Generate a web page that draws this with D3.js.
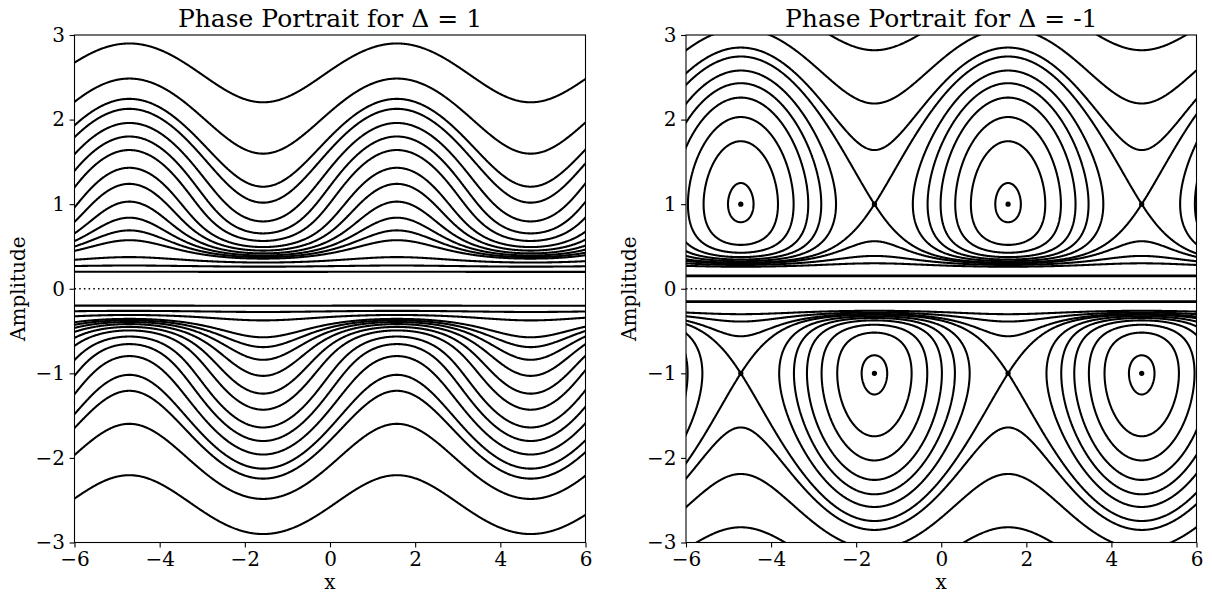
<!DOCTYPE html>
<html><head><meta charset="utf-8">
<script src="https://cdn.jsdelivr.net/npm/d3@7"></script>
<style>
html,body{margin:0;padding:0;background:#fff;}
svg{display:block;}
text{font-family:"DejaVu Serif",serif;fill:#000;}
</style></head><body>
<svg id="chart" width="1212" height="593"></svg>
<script>
// ---------------- data ----------------
const deltas = [1, -1];
const titles = ["Phase Portrait for \u0394 = 1", "Phase Portrait for \u0394 = -1"];
const xTicks = [-6, -4, -2, 0, 2, 4, 6];
const yTicks = [-3, -2, -1, 0, 1, 2, 3];
// Δ = 1 : amplitude of each wavy curve at its crest (x = π/2), upper half (lower half mirrors it)
const leftCrestY = [2.90, 2.485, 2.245, 2.127, 1.96, 1.80, 1.64, 1.43, 1.24, 1.03, 0.84, 0.69, 0.574, 0.374];
// Δ = 1 : flat lines near zero, read at x = 0
const leftFlatY = [0.267, 0.20];
// Δ = -1 : closed orbits, top of each orbit at x = π/2
const rightLoopTopY = [1.25, 1.744, 2.03, 2.26, 2.43, 2.58];
// Δ = -1 : separatrix through the saddle (x = -π/2, y = 1)
const rightSaddleY = [1.0];
// Δ = -1 : open curves above the saddle, read at x = -π/2 (each level also gives the matching curve below the saddle)
const rightAboveSaddleY = [1.64, 2.19, 2.82];
// Δ = -1 : flat lines near zero, read at x = -π/2
const rightFlatY = [0.156, 0.147];
// Δ = -1 : fixed points
const fixedPointX = [-4.712, -1.571, 1.571, 4.712];
const fixedPointY = [1, -1];

// conserved quantity H(x, y) = F(|y|) - c·sign(y)·sin x   (one parameter set per Δ)
const model = {
  "1":  {p: 2.2, k: -0.75, e: -2.5e-4, c: 2.39},
  "-1": {p: 3.0, k: 1.5,  e: 4e-4,    c: 9.2}
};
function F(a, m) { return Math.pow(a, m.p) + m.k / (a * a) + m.e / Math.pow(a, 8); }
function Hval(x, y, m) {
  const a = Math.abs(y);
  if (a < 1e-4) return m.k < 0 ? -1e12 : 1e12;
  const v = F(a, m) - m.c * Math.sign(y) * Math.sin(x);
  return Math.max(-1e12, Math.min(1e12, v));
}

// ---------------- layout ----------------
const svg = d3.select("#chart");
const panels = [
  {x0: 74.5, x1: 585.5},
  {x0: 686, x1: 1196.5}
];
const yTop = 35, yBot = 542.5;
const LW = 2.08;

panels.forEach((P, pi) => {
  const delta = deltas[pi];
  const m = model[String(delta)];
  const sx = d3.scaleLinear().domain([-6, 6]).range([P.x0, P.x1]);
  const sy = d3.scaleLinear().domain([-3, 3]).range([yBot, yTop]);
  const g = svg.append("g");
  const clipId = "clip" + pi;
  svg.append("clipPath").attr("id", clipId).append("rect")
    .attr("x", P.x0).attr("y", yTop).attr("width", P.x1 - P.x0).attr("height", yBot - yTop);

  // levels
  let levels = [];
  if (delta === 1) {
    leftCrestY.forEach(y => levels.push(Hval(Math.PI / 2, y, m)));
    leftFlatY.forEach(y => levels.push(Hval(0, y, m)));
  } else {
    rightLoopTopY.forEach(y => levels.push(Hval(Math.PI / 2, y, m)));
    rightSaddleY.forEach(y => levels.push(Hval(-Math.PI / 2, y, m) + 1e-9));
    rightAboveSaddleY.forEach(y => levels.push(Hval(-Math.PI / 2, y, m)));
    rightFlatY.forEach(y => levels.push(Hval(-Math.PI / 2, y, m)));
  }

  // grid
  const gx0 = -6.3, gx1 = 6.3, gy0 = 3.2, gy1 = -3.2;
  const nx = 840, ny = 641;
  const gdx = (gx1 - gx0) / (nx - 1), gdy = (gy0 - gy1) / (ny - 1);
  const values = new Float64Array(nx * ny);
  for (let j = 0; j < ny; j++) {
    const y = gy0 - j * gdy;
    for (let i = 0; i < nx; i++) {
      values[j * nx + i] = Hval(gx0 + i * gdx, y, m);
    }
  }
  const cont = d3.contours().size([nx, ny]).thresholds(levels)(values);
  const lines = g.append("g").attr("clip-path", `url(#${clipId})`);
  cont.forEach(c => {
    let d = "";
    c.coordinates.forEach(poly => poly.forEach(ring => {
      ring.forEach((pt, k) => {
        const X = sx(gx0 + (pt[0] - 0.5) * gdx), Y = sy(gy0 - (pt[1] - 0.5) * gdy);
        d += (k ? "L" : "M") + X.toFixed(2) + "," + Y.toFixed(2);
      });
    }));
    lines.append("path").attr("d", d).attr("fill", "none").attr("stroke", "#000")
      .attr("stroke-width", LW).attr("stroke-linejoin", "round");
  });

  // dotted zero line
  lines.append("line").attr("x1", sx(-6)).attr("x2", sx(6)).attr("y1", sy(0)).attr("y2", sy(0))
    .attr("stroke", "#000").attr("stroke-width", 1.5).attr("stroke-dasharray", "1.5 3.2");

  // fixed points
  if (delta === -1) {
    fixedPointX.forEach(fx => fixedPointY.forEach(fy => {
      lines.append("circle").attr("cx", sx(fx)).attr("cy", sy(fy)).attr("r", 2.6).attr("fill", "#000");
    }));
  }

  // frame
  g.append("rect").attr("x", P.x0).attr("y", yTop).attr("width", P.x1 - P.x0).attr("height", yBot - yTop)
    .attr("fill", "none").attr("stroke", "#000").attr("stroke-width", 1.1);

  // axes
  const fmt = d3.format("d");
  const ax = g.append("g").attr("transform", `translate(0,${yBot})`)
    .call(d3.axisBottom(sx).tickValues(xTicks).tickFormat(fmt).tickSize(4.9).tickSizeOuter(0).tickPadding(4.6));
  const ay = g.append("g").attr("transform", `translate(${P.x0},0)`)
    .call(d3.axisLeft(sy).tickValues(yTicks).tickFormat(fmt).tickSize(4.9).tickSizeOuter(0).tickPadding(4.6));
  [ax, ay].forEach(a => {
    a.select(".domain").remove();
    a.selectAll(".tick line").attr("stroke", "#000").attr("stroke-width", 1.1);
    a.selectAll(".tick text").attr("font-family", "DejaVu Serif").attr("font-size", "20px").attr("fill", "#000");
  });

  // titles and labels
  const cx = (P.x0 + P.x1) / 2;
  g.append("text").attr("x", cx).attr("y", 26.5).attr("text-anchor", "middle")
    .attr("font-size", "25px").text(titles[pi]);
  g.append("text").attr("x", cx).attr("y", 588.5).attr("text-anchor", "middle")
    .attr("font-size", "20px").text("x");
  g.append("text").attr("transform", `translate(${P.x0 - 50},${(yTop + yBot) / 2}) rotate(-90)`)
    .attr("text-anchor", "middle").attr("font-size", "20px").text("Amplitude");
});
</script>
</body></html>
